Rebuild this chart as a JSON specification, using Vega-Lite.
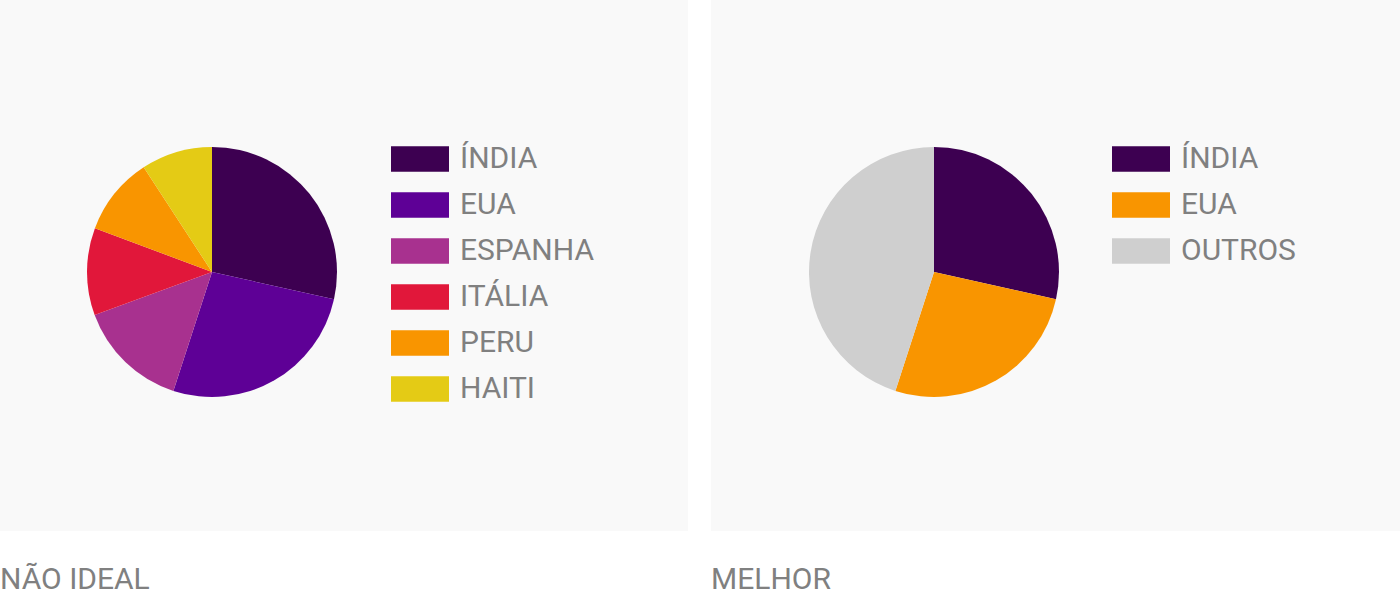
{
  "$schema": "https://vega.github.io/schema/vega-lite/v6.json",
  "padding": 0,
  "background": "white",
  "spacing": 23,
  "hconcat": [
    {
      "width": 688,
      "height": 531,
      "title": {"text": "NÃO IDEAL"},
      "data": {
        "values": [
          {"pais": "ÍNDIA", "pct": 28.5, "n": 1},
          {"pais": "EUA", "pct": 26.5, "n": 2},
          {"pais": "ESPANHA", "pct": 14.4, "n": 3},
          {"pais": "ITÁLIA", "pct": 11.3, "n": 4},
          {"pais": "PERU", "pct": 10.1, "n": 5},
          {"pais": "HAITI", "pct": 9.2, "n": 6}
        ]
      },
      "mark": {"type": "arc", "outerRadius": 125},
      "encoding": {
        "x": {"value": 212},
        "y": {"value": 272},
        "theta": {"field": "pct", "type": "quantitative", "stack": true},
        "order": {"field": "n"},
        "color": {
          "field": "pais",
          "type": "nominal",
          "scale": {
            "domain": ["ÍNDIA", "EUA", "ESPANHA", "ITÁLIA", "PERU", "HAITI"],
            "range": ["#3d0051", "#5e0096", "#a8318f", "#e1173a", "#f99500", "#e4cb15"]
          },
          "legend": {"legendX": 391, "legendY": 130}
        }
      }
    },
    {
      "width": 689,
      "height": 531,
      "title": {"text": "MELHOR"},
      "data": {
        "values": [
          {"pais": "ÍNDIA", "pct": 28.5, "n": 1},
          {"pais": "EUA", "pct": 26.5, "n": 2},
          {"pais": "OUTROS", "pct": 45.0, "n": 3}
        ]
      },
      "mark": {"type": "arc", "outerRadius": 125},
      "encoding": {
        "x": {"value": 223},
        "y": {"value": 272},
        "theta": {"field": "pct", "type": "quantitative", "stack": true},
        "order": {"field": "n"},
        "color": {
          "field": "pais",
          "type": "nominal",
          "scale": {
            "domain": ["ÍNDIA", "EUA", "OUTROS"],
            "range": ["#3d0051", "#f99500", "#cfcfcf"]
          },
          "legend": {"legendX": 401, "legendY": 130}
        }
      }
    }
  ],
  "resolve": {"scale": {"color": "independent"}, "legend": {"color": "independent"}},
  "config": {
    "view": {"stroke": null, "fill": "#f9f9f9"},
    "font": "Roboto",
    "title": {
      "orient": "bottom",
      "anchor": "start",
      "font": "Roboto",
      "fontSize": 30,
      "fontWeight": "normal",
      "color": "#808080",
      "offset": 34
    },
    "legend": {
      "orient": "none",
      "title": null,
      "padding": 0,
      "symbolType": "M-1,-0.44H1V0.44H-1Z",
      "symbolSize": 3364,
      "symbolStrokeWidth": 0,
      "symbolOpacity": 1,
      "labelFont": "Roboto",
      "labelFontSize": 30,
      "labelColor": "#808080",
      "labelOffset": 11,
      "labelLimit": 400,
      "rowPadding": 2
    }
  }
}
